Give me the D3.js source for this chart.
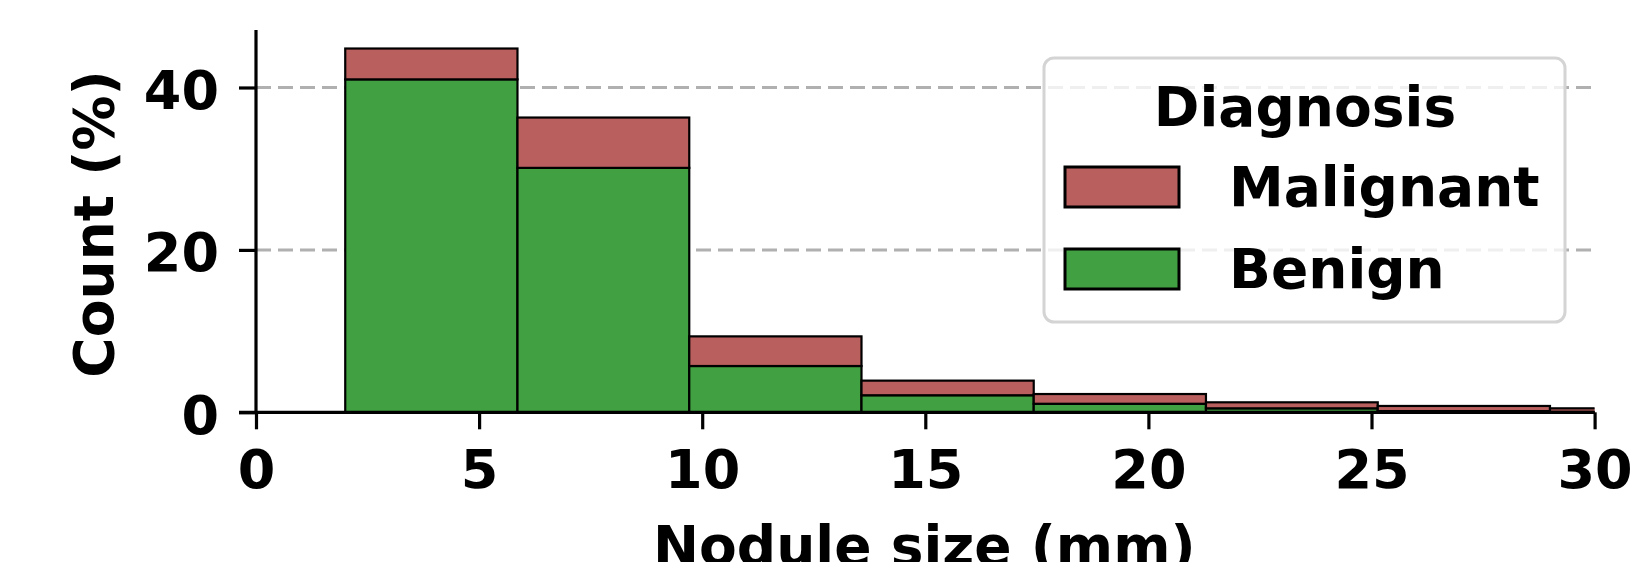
<!DOCTYPE html>
<html>
<head>
<meta charset="UTF-8">
<script src="https://d3js.org/d3.v7.min.js"></script>
<style>
    body { margin: 0; background: white; }
    svg text { font-family: "DejaVu Sans", sans-serif; font-weight: bold; fill: black; }
</style>
</head>
<body>
<div id="viz"></div>
<script>
    // histogram bin edges (mm) and stacked percentages
    const binEdges = [2.0, 5.86, 9.71, 13.57, 17.43, 21.29, 25.14, 29.0, 32.86];
    const benign = [41.0, 30.1, 5.7, 2.1, 1.05, 0.49, 0.15, 0.05];
    const malignant = [3.8, 6.2, 3.65, 1.8, 1.2, 0.74, 0.63, 0.44];
    const xTicks = [0, 5, 10, 15, 20, 25, 30];
    const yTicks = [0, 20, 40];
    const legendItems = ["Malignant", "Benign"];

    const width = 1632, height = 562;
    const margin = { left: 256, right: 1632 - 1594.6, top: 30, bottom: 562 - 412.3 };
    const colors = { Malignant: "#b95f5d", Benign: "#41a041" };

    const svg = d3.select("#viz").append("svg")
        .attr("width", width)
        .attr("height", height);

    const x = d3.scaleLinear().domain([0, 30]).range([margin.left, width - margin.right]);
    const y = d3.scaleLinear().domain([0, 47.08]).range([height - margin.bottom, margin.top]);

    svg.append("clipPath").attr("id", "plotClip")
        .append("rect")
        .attr("x", x(0)).attr("y", 0)
        .attr("width", x(30) - x(0)).attr("height", y(0) + 1);

    // grid lines
    svg.append("g").selectAll("line")
        .data(yTicks.filter(d => d > 0))
        .join("line")
        .attr("x1", x(0)).attr("x2", x(30))
        .attr("y1", d => y(d)).attr("y2", d => y(d))
        .attr("stroke", "#b0b0b0")
        .attr("stroke-width", 3)
        .attr("stroke-dasharray", "15,7");

    const bins = benign.map((b, i) => ({
        x0: binEdges[i], x1: binEdges[i + 1], benign: b, malignant: malignant[i]
    }));

    const bars = svg.append("g").attr("clip-path", "url(#plotClip)");
    bars.selectAll(".benign")
        .data(bins)
        .join("rect")
        .attr("x", d => x(d.x0))
        .attr("width", d => x(d.x1) - x(d.x0))
        .attr("y", d => y(d.benign))
        .attr("height", d => y(0) - y(d.benign))
        .attr("fill", colors.Benign)
        .attr("stroke", "black")
        .attr("stroke-width", 2.2);
    bars.selectAll(".malignant")
        .data(bins)
        .join("rect")
        .attr("x", d => x(d.x0))
        .attr("width", d => x(d.x1) - x(d.x0))
        .attr("y", d => y(d.benign + d.malignant))
        .attr("height", d => y(d.benign) - y(d.benign + d.malignant))
        .attr("fill", colors.Malignant)
        .attr("stroke", "black")
        .attr("stroke-width", 2.2);

    // axes
    const xAxis = svg.append("g")
        .attr("transform", `translate(0,${y(0)})`)
        .call(d3.axisBottom(x).tickValues(xTicks).tickSize(17).tickPadding(12).tickFormat(d3.format("d")));
    const yAxis = svg.append("g")
        .attr("transform", `translate(${x(0)},0)`)
        .call(d3.axisLeft(y).tickValues(yTicks).tickSize(17).tickPadding(20).tickFormat(d3.format("d")));

    [xAxis, yAxis].forEach(g => {
        g.select(".domain").attr("stroke", "black").attr("stroke-width", 3.2);
        g.selectAll(".tick line").attr("stroke", "black").attr("stroke-width", 3.2);
        g.selectAll(".tick text").style("font-size", "54px").attr("fill", "black");
    });
    // plain spines, no outer ticks
    xAxis.select(".domain").attr("d", `M${x(0) - 17},0H${x(30)}`);
    yAxis.select(".domain").attr("d", `M0,${y(0)}V${margin.top}`);
    xAxis.selectAll(".tick text").attr("dy", null).attr("y", 76);
    yAxis.selectAll(".tick text").attr("dy", null).attr("y", 21);

    // axis titles
    svg.append("text")
        .attr("x", (x(0) + x(30)) / 2 - 1)
        .attr("y", 565)
        .attr("text-anchor", "middle")
        .style("font-size", "55px")
        .text("Nodule size (mm)");
    svg.append("text")
        .attr("transform", `translate(113,224) rotate(-90)`)
        .attr("text-anchor", "middle")
        .style("font-size", "55px")
        .text("Count (%)");

    // legend
    const legend = svg.append("g");
    legend.append("rect")
        .attr("x", 1044).attr("y", 58)
        .attr("width", 521).attr("height", 264)
        .attr("rx", 10)
        .attr("fill", "white").attr("fill-opacity", 0.8)
        .attr("stroke", "#d4d4d4").attr("stroke-width", 3);
    legend.append("text")
        .attr("x", 1305).attr("y", 126)
        .attr("text-anchor", "middle")
        .style("font-size", "55px")
        .text("Diagnosis");
    const items = legend.selectAll(".item")
        .data(legendItems)
        .join("g")
        .attr("transform", (d, i) => `translate(0,${i * 82})`);
    items.append("rect")
        .attr("x", 1065).attr("y", 167)
        .attr("width", 114).attr("height", 40)
        .attr("fill", d => colors[d])
        .attr("stroke", "black").attr("stroke-width", 3);
    items.append("text")
        .attr("x", 1229).attr("y", 206)
        .style("font-size", "55px")
        .text(d => d);
</script>
</body>
</html>
